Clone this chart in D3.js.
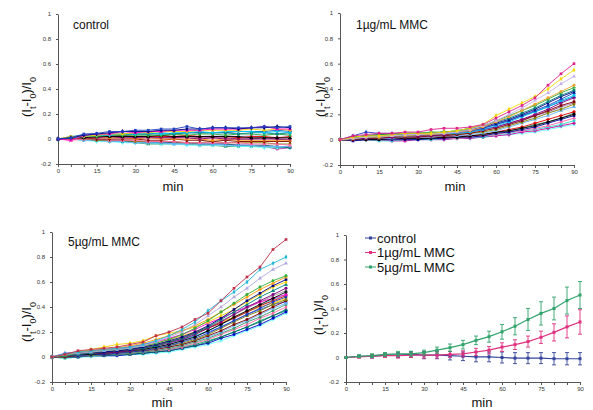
<!DOCTYPE html>
<html>
<head>
<meta charset="utf-8">
<script src="https://cdn.jsdelivr.net/npm/d3@7"></script>
<style>
  body { margin: 0; background: #fff; }
  svg { display: block; font-family: "Liberation Sans", Arial, sans-serif; }
</style>
</head>
<body>
<svg width="593" height="410"></svg>
<script>
// time points (min) and tick labels
var minutes = [0, 5, 10, 15, 20, 25, 30, 35, 40, 45, 50, 55, 60, 65, 70, 75, 80, 85, 90];
var xLabels = [0, 15, 30, 45, 60, 75, 90];
var yTicks = [-0.2, 0, 0.2, 0.4, 0.6, 0.8, 1];

// individual cells, control
var controlRuns = [
  [0,.01,.04,.045,.06,.06,.07,.07,.08,.08,.1,.08,.09,.09,.09,.09,.1,.09,.1],
  [0,.01,.03,.04,.05,.06,.06,.06,.07,.07,.08,.08,.09,.09,.08,.09,.09,.1,.09],
  [0,-.01,.03,.04,.04,.06,.05,.06,.06,.07,.07,.07,.08,.08,.08,.09,.1,.08,.08],
  [0,.02,.02,.03,.04,.04,.05,.05,.06,.06,.06,.07,.07,.07,.07,.08,.07,.08,.07],
  [0,.01,.02,.03,.03,.04,.04,.05,.04,.05,.05,.06,.05,.06,.06,.06,.05,.06,.05],
  [0,.02,.03,.03,.04,.04,.04,.04,.05,.04,.05,.05,.05,.05,.04,.05,.05,.04,.05],
  [0,.01,.02,.02,.03,.03,.03,.03,.03,.04,.03,.04,.04,.03,.04,.04,.03,.04,.03],
  [0,.01,.01,.02,.02,.02,.02,.02,.03,.02,.02,.02,.02,.02,.02,.01,.01,.01,.01],
  [0,.01,.02,.02,.02,.03,.02,.02,.02,.02,.03,.02,.02,.02,.01,.02,.02,.01,.02],
  [0,.01,.01,.01,.02,.01,.01,.01,.01,.01,.01,0,.01,0,0,0,0,0,0],
  [0,0,.01,.01,.01,.01,0,.01,0,0,0,0,-.01,0,-.01,-.01,-.01,-.01,-.01],
  [0,0,.01,0,0,0,0,-.01,-.01,0,-.01,-.01,-.02,-.01,-.02,-.02,-.02,-.02,-.02],
  [0,-.01,0,0,-.01,-.01,-.01,-.02,-.02,-.02,-.03,-.03,-.03,-.03,-.03,-.04,-.04,-.04,-.05],
  [0,0,0,-.01,-.01,-.01,-.02,-.02,-.02,-.02,-.03,-.03,-.02,-.03,-.03,-.03,-.03,-.04,-.04],
  [0,0,-.01,-.01,-.02,-.02,-.03,-.03,-.03,-.04,-.04,-.04,-.04,-.05,-.05,-.05,-.06,-.06,-.06],
  [0,0,0,-.01,-.01,-.02,-.02,-.03,-.03,-.03,-.03,-.04,-.04,-.04,-.05,-.05,-.05,-.06,-.07],
  [0,0,-.01,-.02,-.02,-.03,-.03,-.03,-.04,-.04,-.05,-.05,-.05,-.05,-.06,-.06,-.07,-.07,-.07],
  [0,0,-.01,-.01,-.02,-.02,-.03,-.04,-.04,-.04,-.04,-.05,-.05,-.06,-.06,-.06,-.06,-.07,-.06],
  [0,.01,0,0,-.01,-.01,-.02,-.02,-.03,-.03,-.03,-.04,-.04,-.04,-.05,-.05,-.06,-.08,-.07],
  [0,.01,.02,.02,.03,.03,.04,.04,.04,.04,.05,.05,.05,.05,.06,.06,.06,.07,.06],
  [0,.01,.01,.01,.01,.01,.02,.01,.02,.02,.02,.02,.03,.03,.02,.03,.03,.04,.03],
  [0,.01,.01,.02,.01,.02,.01,.02,.01,.01,.02,.01,.01,.01,0,0,.01,0,-.01]
];

// individual cells, 1 ug/mL MMC
var mmc1Runs = [
  [0,.03,.04,.05,.05,.06,.06,.08,.09,.09,.1,.12,.17,.22,.27,.33,.43,.52,.6],
  [0,.02,.03,.03,.04,.05,.05,.05,.06,.07,.09,.12,.19,.24,.29,.34,.4,.48,.55],
  [0,.01,.02,.03,.03,.04,.04,.05,.05,.06,.08,.11,.15,.2,.25,.31,.37,.44,.5],
  [0,.01,.02,.02,.03,.03,.04,.04,.05,.06,.07,.1,.14,.18,.23,.28,.33,.38,.43],
  [0,.02,.03,.04,.04,.05,.05,.06,.06,.07,.09,.11,.15,.19,.23,.27,.32,.37,.41],
  [0,.01,.03,.03,.04,.04,.05,.05,.06,.07,.09,.11,.14,.17,.21,.25,.3,.35,.39],
  [0,.02,.03,.04,.04,.05,.05,.05,.06,.06,.08,.1,.13,.16,.2,.24,.29,.34,.38],
  [0,.03,.06,.05,.05,.05,.05,.05,.06,.06,.07,.09,.12,.15,.19,.23,.27,.32,.37],
  [0,.01,.02,.02,.03,.03,.04,.04,.05,.05,.06,.08,.11,.14,.18,.22,.26,.31,.35],
  [0,.01,.01,.02,.02,.03,.03,.03,.04,.05,.06,.08,.1,.13,.16,.2,.24,.29,.33],
  [0,0,.01,.01,.02,.02,.02,.03,.03,.04,.05,.07,.09,.12,.15,.19,.23,.27,.3],
  [0,.01,.02,.02,.02,.03,.03,.03,.04,.04,.05,.06,.08,.11,.14,.17,.21,.24,.28],
  [0,0,.01,.01,.01,.02,.02,.02,.03,.03,.04,.05,.07,.1,.13,.16,.19,.23,.26],
  [0,0,0,0,.01,.01,.01,.01,.02,.02,.03,.04,.06,.07,.09,.11,.14,.17,.2],
  [0,0,.01,.01,.01,.01,.02,.02,.02,.03,.03,.04,.06,.08,.1,.13,.16,.19,.22],
  [0,-.01,0,0,0,0,0,.01,.01,.02,.02,.03,.05,.06,.08,.1,.13,.16,.19],
  [0,0,0,.01,.01,.01,.01,.01,.02,.02,.03,.04,.05,.07,.09,.12,.14,.17,.21],
  [0,0,0,0,0,0,.01,.01,.01,.01,.02,.03,.04,.06,.07,.09,.11,.14,.17],
  [0,0,0,-.01,-.01,0,0,0,.01,.01,.02,.02,.04,.05,.07,.08,.1,.12,.15],
  [0,0,0,0,-.01,-.01,0,0,0,.01,.01,.02,.03,.04,.06,.07,.09,.11,.13],
  [0,0,0,0,0,0,0,0,0,.01,.01,.02,.03,.04,.05,.06,.08,.1,.12],
  [0,.01,.01,.02,.02,.02,.03,.03,.04,.04,.05,.07,.1,.12,.15,.18,.21,.25,.3],
  [0,.02,.03,.03,.04,.04,.05,.05,.05,.06,.07,.09,.12,.15,.19,.22,.26,.3,.34],
  [0,.01,.01,.02,.02,.03,.03,.04,.04,.05,.06,.08,.1,.13,.16,.19,.22,.26,.29]
];

// individual cells, 5 ug/mL MMC
var mmc5Runs = [
  [0,.02,.05,.06,.07,.08,.1,.12,.17,.2,.24,.3,.35,.45,.55,.64,.72,.86,.94],
  [0,.03,.04,.05,.06,.07,.08,.1,.13,.17,.22,.28,.37,.45,.52,.6,.7,.75,.8],
  [0,.02,.03,.04,.05,.06,.07,.09,.12,.16,.2,.26,.33,.4,.48,.55,.63,.7,.75],
  [0,.01,.03,.04,.05,.06,.07,.09,.11,.14,.18,.23,.29,.36,.43,.5,.56,.61,.65],
  [0,.02,.04,.05,.06,.07,.09,.11,.14,.17,.21,.25,.3,.36,.42,.48,.54,.59,.64],
  [0,.02,.03,.04,.04,.05,.06,.08,.1,.13,.16,.2,.25,.31,.38,.45,.51,.57,.62],
  [0,.02,.04,.06,.08,.1,.11,.13,.17,.19,.21,.24,.28,.33,.38,.44,.5,.56,.6],
  [0,.01,.02,.03,.04,.05,.06,.07,.09,.12,.15,.19,.24,.3,.36,.42,.48,.53,.58],
  [0,.01,.02,.03,.03,.04,.05,.07,.09,.11,.14,.18,.23,.28,.34,.4,.45,.5,.55],
  [0,.01,.02,.02,.03,.04,.05,.06,.08,.1,.13,.16,.21,.26,.32,.37,.42,.47,.52],
  [0,.03,.04,.05,.06,.07,.08,.1,.12,.15,.18,.22,.27,.31,.36,.4,.44,.47,.5],
  [0,.01,.01,.02,.02,.03,.04,.05,.07,.09,.12,.15,.19,.24,.29,.34,.39,.44,.48],
  [0,.01,.02,.02,.03,.04,.04,.06,.07,.09,.11,.14,.18,.23,.28,.33,.37,.42,.46],
  [0,0,.01,.02,.02,.03,.04,.05,.06,.08,.1,.13,.17,.21,.26,.3,.35,.4,.45],
  [0,.01,.01,.02,.03,.03,.04,.05,.06,.08,.1,.13,.16,.2,.25,.29,.34,.39,.43],
  [0,0,.01,.01,.02,.02,.03,.04,.05,.07,.09,.12,.15,.19,.23,.28,.32,.37,.42],
  [0,0,.01,.01,.02,.02,.03,.04,.05,.06,.08,.11,.14,.18,.22,.26,.31,.35,.4],
  [0,0,0,.01,.01,.02,.02,.03,.04,.05,.07,.09,.12,.16,.2,.24,.28,.33,.38],
  [0,0,0,.01,.01,.01,.02,.03,.04,.05,.07,.09,.11,.15,.18,.22,.26,.31,.36],
  [0,-.01,0,0,.01,.01,.02,.02,.03,.04,.06,.08,.1,.13,.17,.21,.25,.3,.35],
  [0,.01,.02,.03,.04,.05,.06,.07,.09,.12,.15,.19,.23,.27,.31,.36,.41,.45,.49],
  [0,.02,.03,.04,.05,.05,.06,.08,.1,.12,.15,.19,.24,.29,.34,.39,.44,.49,.53],
  [0,.01,.02,.03,.03,.04,.05,.06,.08,.1,.13,.17,.21,.26,.31,.36,.41,.46,.5],
  [0,.01,.02,.03,.04,.05,.06,.08,.11,.14,.17,.2,.24,.28,.32,.36,.4,.43,.47],
  [0,.02,.03,.04,.05,.06,.07,.08,.1,.12,.14,.17,.2,.24,.29,.34,.38,.42,.44],
  [0,-.01,0,.01,.02,.02,.03,.03,.04,.06,.08,.1,.13,.16,.2,.24,.29,.33,.37]
];

// averages with error bars
var meanNames = ["control", "1\u00b5g/mL MMC", "5\u00b5g/mL MMC"];
var meanControl = [0,.01,.01,.02,.02,.025,.02,.02,.015,.01,.005,.005,0,-.005,-.005,-.005,-.01,-.01,-.01];
var sdControl   = [0,.01,.015,.015,.02,.025,.03,.03,.035,.035,.04,.04,.045,.045,.045,.045,.05,.05,.05];
var mean1       = [0,.005,.01,.015,.015,.02,.02,.02,.025,.03,.045,.06,.085,.105,.13,.165,.205,.25,.29];
var sd1         = [0,.01,.015,.015,.02,.02,.025,.025,.025,.025,.03,.03,.035,.04,.045,.05,.07,.09,.1];
var mean5       = [0,.01,.015,.025,.03,.03,.04,.06,.08,.105,.14,.17,.21,.255,.31,.36,.4,.465,.51];
var sd5         = [0,.01,.015,.015,.02,.02,.02,.025,.03,.035,.035,.045,.06,.07,.09,.095,.093,.11,.11];

// Excel-ish series colours, one list per panel
var controlColors = ["#1f3fbf", "#000080", "#ff00cc", "#f2d000", "#00c8f0", "#008080", "#2fae3a",
  "#000000", "#e00000", "#800080", "#ff9900", "#800000", "#ff66aa", "#808000", "#66b3ff",
  "#006666", "#66ffff", "#339966", "#cc0099", "#0066cc", "#ccccff", "#993366"];
var mmc1Colors = ["#e0218a", "#f5d800", "#c8b0f0", "#f0a030", "#2fae3a", "#008080", "#000080",
  "#1f3fbf", "#00c8f0", "#800080", "#800000", "#808000", "#66b3ff", "#000000", "#e00000",
  "#000099", "#339966", "#ff66aa", "#33cccc", "#cc0099", "#66ffff", "#ccccff", "#0066cc", "#993366"];
var mmc5Colors = ["#c0304a", "#20b8d8", "#b0a8e0", "#2fae3a", "#ff9900", "#000080", "#f2d000",
  "#008080", "#800080", "#000000", "#ff00cc", "#1f3fbf", "#808000", "#800000", "#66b3ff",
  "#339966", "#ff66aa", "#006666", "#0000cc", "#66ffff", "#e00000", "#999999", "#33cccc",
  "#ffcc00", "#3366ff", "#00aa66"];
var meanColors = ["#33449a", "#e0307f", "#2fa36a"];
var shapes = [d3.symbolSquare, d3.symbolDiamond, d3.symbolTriangle, d3.symbolCircle, d3.symbolCross];

var svg = d3.select("svg");

var panels = [
  { x0: 58,  x1: 290, y0: 164, y1: 14,  title: "control",        tx: 73,  ty: 29,  lx: 26,  ly: 97,  mx: 173, my: 191 },
  { x0: 340, x1: 574, y0: 165, y1: 13,  title: "1\u00b5g/mL MMC", tx: 356, ty: 29,  lx: 320, ly: 97,  mx: 455, my: 191 },
  { x0: 52,  x1: 286, y0: 382, y1: 232, title: "5\u00b5g/mL MMC", tx: 68,  ty: 246, lx: 26,  ly: 322, mx: 162, my: 407 },
  { x0: 346, x1: 580, y0: 382, y1: 235, title: null,              lx: 318, ly: 315, mx: 482, my: 407 }
];

function frame(p) {
  var x = d3.scaleLinear().domain([0, 90]).range([p.x0, p.x1]);
  var y = d3.scaleLinear().domain([-0.2, 1]).range([p.y0, p.y1]);

  var gx = svg.append("g")
    .attr("transform", "translate(0," + p.y0 + ")")
    .call(d3.axisBottom(x).tickValues(minutes).tickSize(3).tickSizeOuter(0).tickPadding(2)
      .tickFormat(function (d) { return xLabels.indexOf(d) >= 0 ? d : ""; }));
  var gy = svg.append("g")
    .attr("transform", "translate(" + p.x0 + ",0)")
    .call(d3.axisLeft(y).tickValues(yTicks).tickSize(2).tickSizeOuter(0).tickPadding(5)
      .tickFormat(function (d) { return String(d); }));
  [gx, gy].forEach(function (g) {
    g.select(".domain").attr("stroke", "#555");
    g.selectAll(".tick line").attr("stroke", "#555");
    g.selectAll(".tick text").attr("fill", "#333").style("font-size", "6px");
  });

  if (p.title) {
    svg.append("text").attr("x", p.tx).attr("y", p.ty)
      .style("font-size", "12px").attr("fill", "#111").text(p.title);
  }

  svg.append("text").attr("x", p.mx).attr("y", p.my).attr("text-anchor", "middle")
    .style("font-size", "13px").attr("fill", "#111").text("min");

  var t = svg.append("text")
    .attr("transform", "translate(" + p.lx + "," + p.ly + ") rotate(-90)")
    .attr("text-anchor", "middle").attr("dy", "0.35em")
    .style("font-size", "13px").attr("fill", "#111");
  [["(I", 0], ["t", 1], ["-I", 0], ["0", 1], [")/I", 0], ["0", 1]].forEach(function (s) {
    var ts = t.append("tspan").text(s[0]);
    if (s[1]) ts.attr("baseline-shift", "sub").style("font-size", "9px");
  });

  return { x: x, y: y };
}

function drawRuns(p, runs, colors) {
  var f = frame(p);
  var line = d3.line()
    .x(function (d, i) { return f.x(minutes[i]); })
    .y(function (d) { return f.y(d); });
  // draw bottom-listed runs first so the top ones sit on top
  runs.slice().reverse().forEach(function (run, r) {
    var k = runs.length - 1 - r;
    var c = colors[k % colors.length];
    svg.append("path").attr("d", line(run)).attr("fill", "none")
      .attr("stroke", c).attr("stroke-width", 0.9);
    svg.append("g").selectAll("path").data(run).join("path")
      .attr("transform", function (d, i) { return "translate(" + f.x(minutes[i]) + "," + f.y(d) + ")"; })
      .attr("d", d3.symbol().type(shapes[k % shapes.length]).size(7))
      .attr("fill", c);
  });
}

drawRuns(panels[0], controlRuns, controlColors);
drawRuns(panels[1], mmc1Runs, mmc1Colors);
drawRuns(panels[2], mmc5Runs, mmc5Colors);

// averages panel
(function () {
  var p = panels[3];
  var f = frame(p);
  var series = [[meanControl, sdControl], [mean1, sd1], [mean5, sd5]];
  var line = d3.line()
    .x(function (d, i) { return f.x(minutes[i]); })
    .y(function (d) { return f.y(d); });
  series.forEach(function (s, k) {
    var c = meanColors[k];
    var g = svg.append("g");
    s[0].forEach(function (m, i) {
      if (!s[1][i]) return;
      var xx = f.x(minutes[i]), lo = f.y(m - s[1][i]), hi = f.y(m + s[1][i]);
      g.append("line").attr("x1", xx).attr("x2", xx).attr("y1", lo).attr("y2", hi)
        .attr("stroke", c).attr("stroke-width", 0.9);
      [lo, hi].forEach(function (yy) {
        g.append("line").attr("x1", xx - 2).attr("x2", xx + 2).attr("y1", yy).attr("y2", yy)
          .attr("stroke", c).attr("stroke-width", 0.9);
      });
    });
    g.append("path").attr("d", line(s[0])).attr("fill", "none")
      .attr("stroke", c).attr("stroke-width", 1.2);
    g.selectAll("rect").data(s[0]).join("rect")
      .attr("x", function (d, i) { return f.x(minutes[i]) - 1.5; })
      .attr("y", function (d) { return f.y(d) - 1.5; })
      .attr("width", 3).attr("height", 3).attr("fill", c);
  });

  // legend
  meanNames.forEach(function (name, k) {
    var ly = 238 + k * 14.5, c = meanColors[k];
    svg.append("line").attr("x1", 365).attr("x2", 376).attr("y1", ly).attr("y2", ly)
      .attr("stroke", c).attr("stroke-width", 1);
    svg.append("rect").attr("x", 369).attr("y", ly - 1.5).attr("width", 3).attr("height", 3).attr("fill", c);
    svg.append("text").attr("x", 377).attr("y", ly + 4.5)
      .style("font-size", "13px").attr("fill", "#111").text(name);
  });
})();
</script>
</body>
</html>
